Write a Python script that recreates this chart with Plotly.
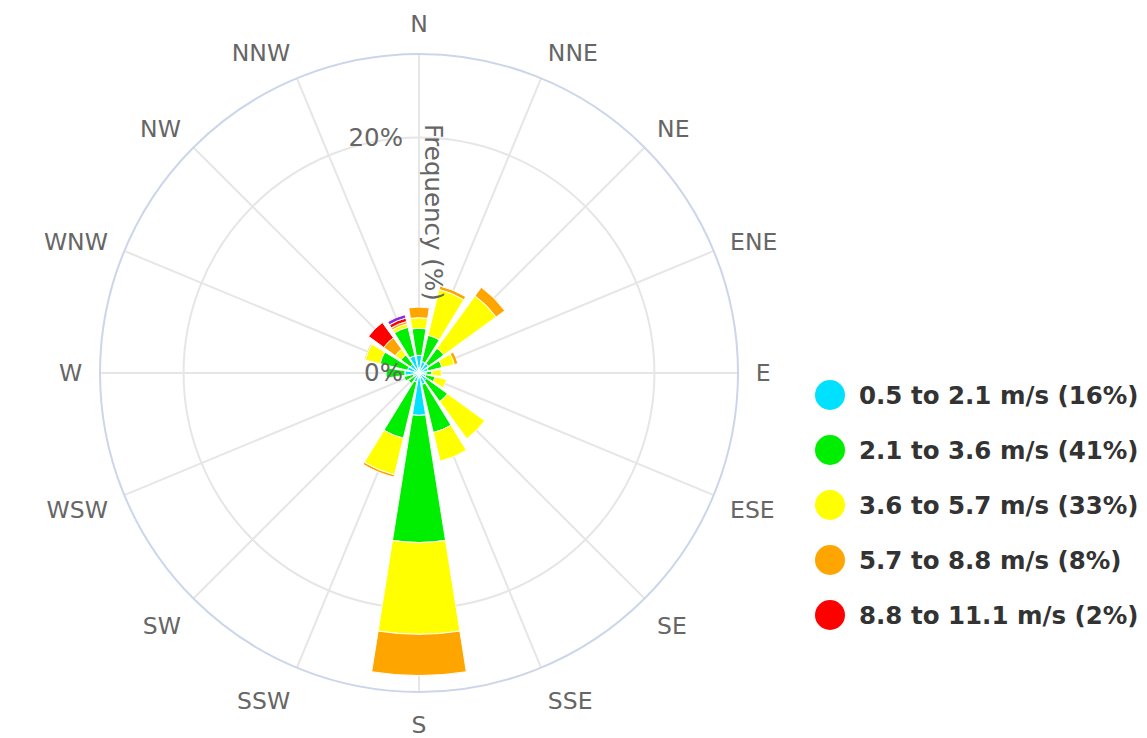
import plotly.graph_objects as go

directions = ["N", "NNE", "NE", "ENE", "E", "ESE", "SE", "SSE",
              "S", "SSW", "SW", "WSW", "W", "WNW", "NW", "NNW"]

speed_bins = ["0.5 to 2.1", "2.1 to 3.6", "3.6 to 5.7", "5.7 to 8.8", "8.8 to 11.1"]
bin_shares = [16, 41, 33, 8, 2]

f_0p5_2p1 = [1.5, 1.0, 1.0, 0.8, 0.6, 0.6, 0.8, 1.0, 3.6, 0.8, 0.5, 0.5, 1.2, 1.0, 0.9, 1.5]
f_2p1_3p6 = [2.3, 2.3, 1.6, 1.2, 0.5, 0.8, 2.2, 4.2, 10.8, 4.9, 0.6, 0.8, 1.6, 2.4, 1.0, 2.5]
f_3p6_5p7 = [0.9, 4.0, 5.5, 1.1, 0.8, 1.0, 3.9, 2.5, 7.8, 3.2, 0.0, 0.0, 0.0, 1.3, 0.6, 0.3]
f_5p7_8p8 = [0.9, 0.3, 0.9, 0.3, 0.0, 0.0, 0.0, 0.0, 3.5, 0.2, 0.0, 0.0, 0.0, 0.1, 1.2, 0.2]
f_8p8_11p1 = [0.0, 0.0, 0.0, 0.0, 0.0, 0.0, 0.0, 0.0, 0.0, 0.0, 0.0, 0.0, 0.0, 0.0, 1.6, 0.3]
f_over_11p1 = [0.0, 0.0, 0.0, 0.0, 0.0, 0.0, 0.0, 0.0, 0.0, 0.0, 0.0, 0.0, 0.0, 0.0, 0.0, 0.3]

radial_ticks = [0, 20]
radial_ticktext = ["0%", "20%"]
radial_title = "Frequency (%)"

series = [f_0p5_2p1, f_2p1_3p6, f_3p6_5p7, f_5p7_8p8, f_8p8_11p1, f_over_11p1]
colors = ["#00e1ff", "#00ee00", "#ffff00", "#ffa500", "#ff0000", "#8a2be2"]
names = [f"{b} m/s ({s}%)" for b, s in zip(speed_bins, bin_shares)] + ["> 11.1 m/s"]

W, H = 1147, 738
OFF = 8  # page body margin
cx, cy, R = 419 - OFF, 373 - OFF, 319

fig = go.Figure()
for vals, col, nm in zip(series, colors, names):
    fig.add_trace(go.Barpolar(
        r=vals, theta=directions, name=nm, width=0.8,
        marker=dict(color=col, line=dict(color="white", width=1)),
        showlegend=False,
    ))

axis_font = dict(family="DejaVu Sans, sans-serif", size=23.5, color="#666666")
radial_font = dict(family="DejaVu Sans, sans-serif", size=24.5, color="#666666")

fig.update_layout(
    width=W, height=H,
    margin=dict(l=0, r=0, t=0, b=0),
    paper_bgcolor="white",
    showlegend=False,
    polar=dict(
        domain=dict(x=[(cx - R) / W, (cx + R) / W], y=[(H - cy - R) / H, (H - cy + R) / H]),
        bgcolor="white",
        barmode="stack",
        angularaxis=dict(
            direction="clockwise", rotation=90, type="category",
            categoryarray=directions,
            showline=True, linecolor="#ccd6eb", linewidth=2,
            showgrid=True, gridcolor="#e6e6e6", gridwidth=1.5,
            ticks="outside", ticklen=12, tickcolor="rgba(0,0,0,0)",
            tickfont=axis_font,
        ),
        radialaxis=dict(
            range=[0, 27.1], angle=90, side="counterclockwise",
            tickmode="array", tickvals=radial_ticks, ticktext=radial_ticktext,
            showline=False, showgrid=True, gridcolor="#e6e6e6", gridwidth=1.5,
            ticks="outside", ticklen=7, tickcolor="rgba(0,0,0,0)",
            tickfont=radial_font, tickangle=90,
        ),
    ),
)

# radial axis title, drawn along the axis reading top to bottom
fig.add_annotation(x=(433 - OFF) / W, y=1 - (212 - OFF) / H, xref="paper", yref="paper",
                   showarrow=False, textangle=90, text=radial_title, font=radial_font,
                   xanchor="center", yanchor="middle")

# legend (circle symbols + labels), built from the series lists
row_y = [395, 450, 505, 560, 615]
for i in range(len(speed_bins)):
    y = row_y[i] - OFF
    fig.add_shape(type="circle", xref="paper", yref="paper",
                  xsizemode="pixel", ysizemode="pixel",
                  xanchor=(830 - OFF) / W, yanchor=1 - y / H,
                  x0=-15, x1=15, y0=-15, y1=15,
                  fillcolor=colors[i], line=dict(width=0))
    fig.add_annotation(x=(857 - OFF) / W, y=1 - y / H, xref="paper", yref="paper",
                       xanchor="left", yanchor="middle", showarrow=False,
                       text=names[i],
                       font=dict(family="DejaVu Sans", size=24.5, color="#333333", weight="bold"))

fig.write_html("out.html")
